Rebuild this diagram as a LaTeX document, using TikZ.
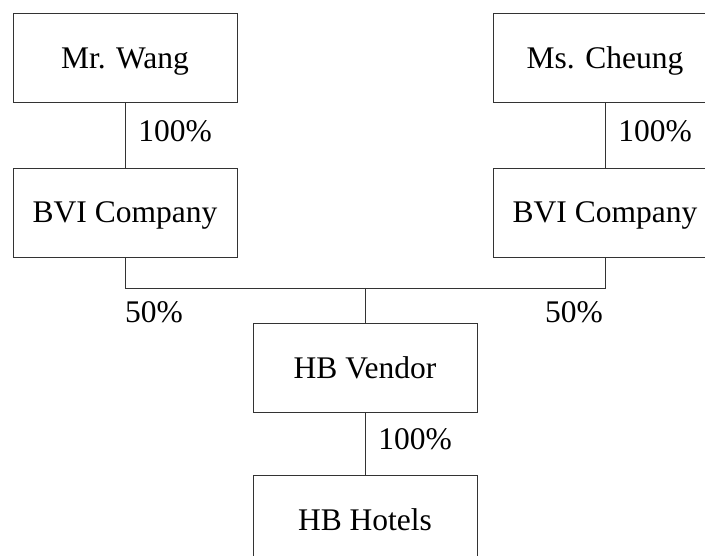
\documentclass[tikz,border=0pt]{standalone}
\usepackage{fontspec}
\setmainfont{Liberation Serif}
\usetikzlibrary{positioning}
\tikzset{entity/.style={rectangle,draw=black!80,line width=0.9pt,minimum width=224pt,minimum height=89pt,inner sep=0pt,text height=25pt,text depth=4pt,font=\fontsize{31.5}{36}\selectfont}}
\tikzset{share/.style={font=\fontsize{31.5}{36}\selectfont,inner sep=0pt}}

\begin{document}
\begin{tikzpicture}[x=1pt,y=-1pt]
\useasboundingbox (0,0) rectangle (705,556);
\clip (0,0) rectangle (705,556);
% owners
\node (wang) [entity] at (125,58) {Mr. Wang};
\node (cheung) [entity] at (605,58) {Ms. Cheung};
\node (bviL) [entity] at (125,212.5) {BVI Company};
\node (bviR) [entity] at (605,212.5) {BVI Company};
% group
\node (vendor) [entity] at (365,367.5) {HB Vendor};
\node (hotels) [entity] at (365,519.5) {HB Hotels};
\coordinate (join) at (365,288);
\coordinate (cornerL) at (bviL.south |- join);
\coordinate (cornerR) at (bviR.south |- join);
%
\path[draw=black!80,line width=0.9pt](wang) edge node[share,midway,anchor=west,xshift=13pt,yshift=4pt] {100\%} (bviL);
\path[draw=black!80,line width=0.9pt](cheung) edge node[share,midway,anchor=west,xshift=13pt,yshift=4pt] {100\%} (bviR);
\draw[black!80,line width=0.9pt](bviL.south) -- (cornerL) -- (cornerR) -- (bviR.south);
\draw[black!80,line width=0.9pt](join) -- (vendor.north);
\path[draw=black!80,line width=0.9pt](vendor) edge node[share,midway,anchor=west,xshift=13pt,yshift=4pt] {100\%} (hotels);
\node (halfL) [share,below right=13pt and 0pt of cornerL] {50\%};
\node (halfR) [share,below left=13pt and 2pt of cornerR] {50\%};
\end{tikzpicture}
\end{document}
